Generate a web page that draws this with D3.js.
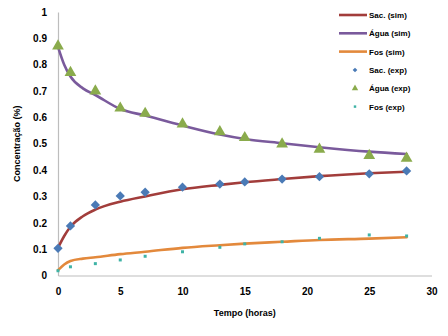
<!DOCTYPE html>
<html>
<head>
<meta charset="utf-8">
<script src="https://cdn.jsdelivr.net/npm/d3@7"></script>
<style>
  body { margin: 0; background: #fff; }
  svg text { font-family: "Liberation Sans", Arial, sans-serif; font-weight: bold; fill: #000; }
</style>
</head>
<body>
<svg id="chart" width="448" height="336"></svg>
<script>
// Simulated curves (model) time grid, hours
const simTime = [0, 0.5, 1, 2, 3, 5, 7, 10, 13, 15, 18, 21, 25, 28];
const sacSim  = [0.105, 0.15, 0.185, 0.225, 0.250, 0.280, 0.300, 0.327, 0.344, 0.354, 0.366, 0.377, 0.388, 0.394];
const aguaSim = [0.868, 0.800, 0.755, 0.710, 0.685, 0.632, 0.607, 0.569, 0.535, 0.518, 0.502, 0.487, 0.470, 0.461];
const fosSim  = [0.020, 0.042, 0.055, 0.064, 0.069, 0.081, 0.090, 0.105, 0.115, 0.121, 0.128, 0.135, 0.140, 0.145];

// Experimental samples
const expTime = [0, 1, 3, 5, 7, 10, 13, 15, 18, 21, 25, 28];
const sacExp  = [0.103, 0.188, 0.268, 0.302, 0.316, 0.335, 0.347, 0.355, 0.366, 0.375, 0.386, 0.397];
const aguaExp = [0.871, 0.770, 0.700, 0.635, 0.615, 0.575, 0.545, 0.523, 0.499, 0.479, 0.455, 0.445];
const fosExp  = [0.018, 0.033, 0.045, 0.059, 0.073, 0.090, 0.107, 0.120, 0.128, 0.141, 0.154, 0.150];

const xTicks = [0, 5, 10, 15, 20, 25, 30];
const yTicks = [0, 0.1, 0.2, 0.3, 0.4, 0.5, 0.6, 0.7, 0.8, 0.9, 1];

const svg = d3.select("#chart");
const x = d3.scaleLinear().domain([0, 30]).range([58, 431.5]);
const y = d3.scaleLinear().domain([0, 1]).range([275.5, 12]);

// Axes
const xAxis = d3.axisBottom(x).tickValues(xTicks).tickSize(0).tickPadding(12).tickFormat(d3.format("d"));
const yAxis = d3.axisLeft(y).tickValues(yTicks).tickSize(0).tickPadding(11).tickFormat(d => d === 0 || d === 1 ? d : d3.format(".1f")(d));

const gx = svg.append("g").attr("transform", `translate(0,${y(0)})`).call(xAxis);
const gy = svg.append("g").attr("transform", `translate(${x(0)},0)`).call(yAxis);
[gx, gy].forEach(g => {
  g.select(".domain").attr("stroke", "#bdbdbd").attr("stroke-width", 1.2);
  g.selectAll("text").attr("font-size", 10).style("font-family", "'Liberation Sans', Arial, sans-serif").style("font-weight", "bold");
});

// Axis titles
svg.append("text").attr("x", (x(0) + x(30)) / 2).attr("y", 316).attr("text-anchor", "middle")
  .attr("font-size", 9).text("Tempo (horas)");
svg.append("text").attr("transform", `translate(20,${y(0.5)}) rotate(-90)`).attr("text-anchor", "middle")
  .attr("font-size", 9).text("Concentração (%)");

// Simulated lines
const line = d3.line().x((d, i) => x(simTime[i])).y(d => y(d)).curve(d3.curveMonotoneX);
const simSeries = [
  { name: "Sac. (sim)", values: sacSim, color: "#a23d3b" },
  { name: "Água (sim)", values: aguaSim, color: "#7a5a9c" },
  { name: "Fos (sim)", values: fosSim, color: "#e3893c" }
];
simSeries.forEach(s => {
  svg.append("path").attr("d", line(s.values)).attr("fill", "none")
    .attr("stroke", s.color).attr("stroke-width", 2.6).attr("stroke-linecap", "round");
});

// Experimental markers
const diamond = d3.symbol().type(d3.symbolDiamond2).size(55);
const triangle = d3.symbol().type(d3.symbolTriangle).size(60);
const square = d3.symbol().type(d3.symbolSquare).size(9);

const expSeries = [
  { name: "Sac. (exp)", values: sacExp, color: "#4a7ab6", sym: diamond },
  { name: "Água (exp)", values: aguaExp, color: "#8aab4c", sym: triangle },
  { name: "Fos (exp)", values: fosExp, color: "#3fb3a6", sym: square }
];
expSeries.forEach(s => {
  svg.append("g").selectAll("path").data(s.values).join("path")
    .attr("transform", (d, i) => `translate(${x(expTime[i])},${y(d)})`)
    .attr("d", s.sym()).attr("fill", s.color);
});

// Legend
const leg = svg.append("g");
simSeries.forEach((s, i) => {
  const ly = 15 + i * 18.3;
  leg.append("line").attr("x1", 339).attr("x2", 367).attr("y1", ly).attr("y2", ly)
    .attr("stroke", s.color).attr("stroke-width", 2.6);
  leg.append("text").attr("x", 369).attr("y", ly + 3).attr("font-size", 8).text(s.name);
});
const smallSyms = [
  d3.symbol().type(d3.symbolDiamond2).size(14),
  d3.symbol().type(d3.symbolTriangle).size(18),
  d3.symbol().type(d3.symbolSquare).size(6)
];
expSeries.forEach((s, i) => {
  const ly = 70 + i * 18.3;
  leg.append("path").attr("transform", `translate(355,${ly})`).attr("d", smallSyms[i]()).attr("fill", s.color);
  leg.append("text").attr("x", 369).attr("y", ly + 3).attr("font-size", 8).text(s.name);
});
</script>
</body>
</html>
